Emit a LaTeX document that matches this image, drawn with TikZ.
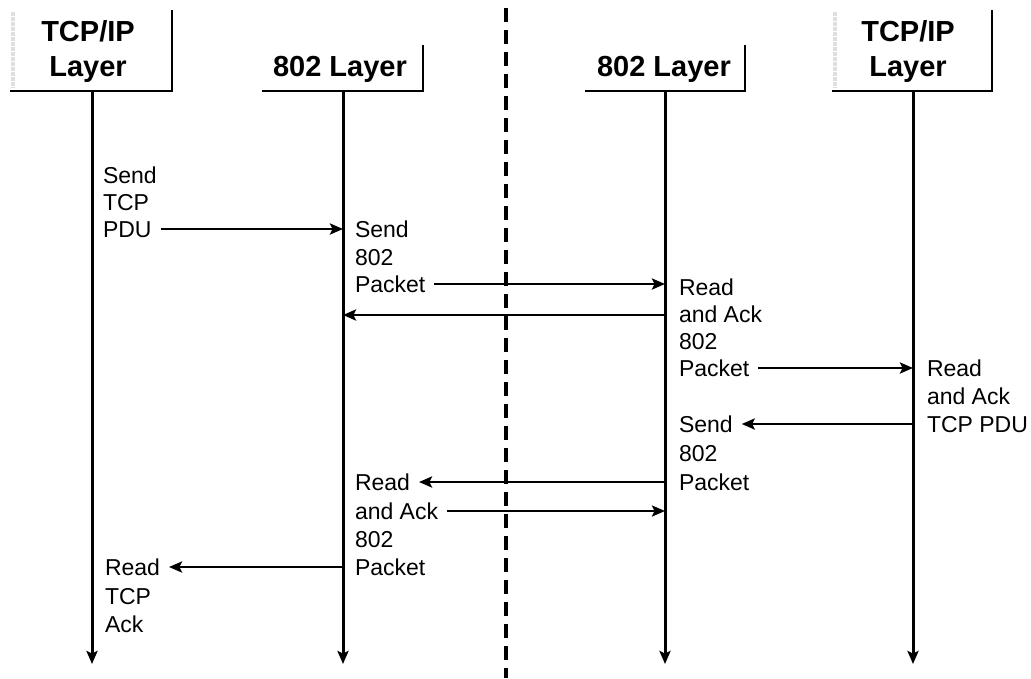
\documentclass[tikz,border=0pt]{standalone}
\usepackage{fontspec}
\setmainfont{Liberation Sans}
\usetikzlibrary{arrows.meta}
\begin{document}
\begin{tikzpicture}[x=1pt,y=-1pt,
  life/.style={line width=3pt, -{Stealth[length=13pt,width=11pt,inset=2.5pt]}},
  msg/.style={line width=2.8pt, -{Stealth[length=13pt,width=11pt,inset=2.5pt]}},
  boxline/.style={line width=2.4pt},
  faint/.style={line width=4pt, gray!25, densely dotted},
  lbl/.style={anchor=west, inner sep=0pt, outer xsep=9pt, text height=16pt, text depth=0pt, font=\fontsize{23}{27}\selectfont},
  hdr/.style={inner sep=0pt, text height=20pt, text depth=0pt, font=\fontsize{29}{34}\selectfont\bfseries},
  sepline/.style={line width=3.4pt, dash pattern=on 14pt off 8pt}]
\useasboundingbox (0,0) rectangle (1031,678);

% lifeline coordinates
\coordinate (L1t) at (92,91);  \coordinate (L1b) at (92,664);
\coordinate (L2t) at (343,91); \coordinate (L2b) at (343,664);
\coordinate (L3t) at (665,91); \coordinate (L3b) at (665,664);
\coordinate (L4t) at (913,91); \coordinate (L4b) at (913,664);

% header boxes
\draw[faint] (13,12) -- (13,88);
\draw[faint] (835,12) -- (835,88);
\draw[boxline] (10,91) -- (172,91) -- (172,10);
\draw[boxline] (262,91) -- (423,91) -- (423,45);
\draw[boxline] (585,91) -- (745,91) -- (745,45);
\draw[boxline] (832,91) -- (992,91) -- (992,10);

\node[hdr] (h1a) at (88,31) {TCP/IP};
\node[hdr] (h1b) at (88,66) {Layer};
\node[hdr] (h2) at (340,66) {802 Layer};
\node[hdr] (h3) at (664,66) {802 Layer};
\node[hdr] (h4a) at (908,31) {TCP/IP};
\node[hdr] (h4b) at (908,66) {Layer};

% lifelines
\draw[life] (L1t) -- (L1b);
\draw[life] (L2t) -- (L2b);
\draw[life] (L3t) -- (L3b);
\draw[life] (L4t) -- (L4b);

% separator
\draw[sepline] (506,8) -- (506,678);

% labels
\node[lbl] (a1) at (94,175) {Send};
\node[lbl] (a2) at (94,202) {TCP};
\node[lbl] (a3) at (94,229) {PDU};

\node[lbl] (b1) at (346,229) {Send};
\node[lbl] (b2) at (346,257) {802};
\node[lbl] (b3) at (346,284) {Packet};

\coordinate (r1) at (665,315);

\node[lbl] (c1) at (670,287) {Read};
\node[lbl] (c2) at (670,314) {and Ack};
\node[lbl] (c3) at (670,341) {802};
\node[lbl] (c4) at (670,368) {Packet};

\node[lbl] (d1) at (918,368) {Read};
\node[lbl] (d2) at (918,396) {and Ack};
\node[lbl] (d3) at (918,424) {TCP PDU};

\node[lbl] (e1) at (670,424) {Send};
\node[lbl] (e2) at (670,453) {802};
\node[lbl] (e3) at (670,482) {Packet};

\node[lbl] (g1) at (346,482) {Read};
\node[lbl] (g2) at (346,511) {and Ack};
\node[lbl] (g3) at (346,539) {802};
\node[lbl] (g4) at (346,567) {Packet};

\node[lbl] (k1) at (96,567) {Read};
\node[lbl] (k2) at (96,596) {TCP};
\node[lbl] (k3) at (96,624) {Ack};

% messages
\draw[msg] (a3.east) -- (a3.east -| L2t);
\draw[msg] (b3.east) -- (b3.east -| L3t);
\draw[msg] (r1) -- (r1 -| L2t);
\draw[msg] (c4.east) -- (c4.east -| L4t);
\draw[msg] (d3.west -| L4t) -- (e1.east);
\draw[msg] (e3.west -| L3t) -- (g1.east);
\draw[msg, line width=2.2pt] (g2.east) -- (g2.east -| L3t);
\draw[msg] (g4.west -| L2t) -- (k1.east);
\end{tikzpicture}
\end{document}
